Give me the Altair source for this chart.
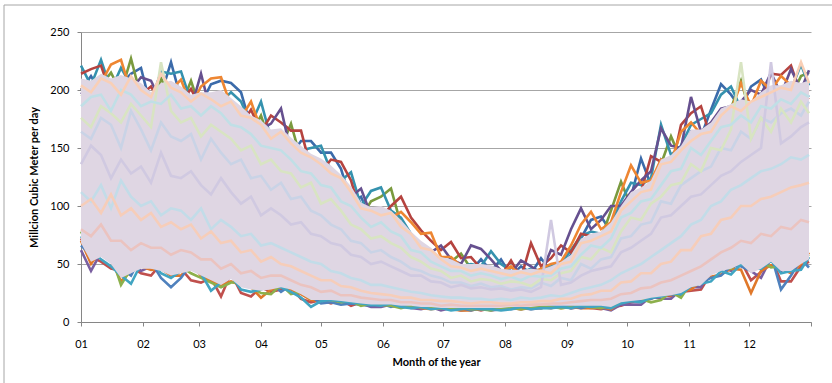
import altair as alt
import pandas as pd

# ---- x grid (day of year) and month ticks ----
days = [0, 5, 10, 15, 20, 25, 30, 35, 40, 45, 50, 55, 60, 65, 70, 75, 80, 85, 90, 95,
        100, 105, 110, 115, 120, 125, 130, 135, 140, 145, 150, 155, 160, 165, 170, 175,
        180, 185, 190, 195, 200, 205, 210, 215, 220, 225, 230, 235, 240, 245, 250, 255,
        260, 265, 270, 275, 280, 285, 290, 295, 300, 305, 310, 315, 320, 325, 330, 335,
        340, 345, 350, 355, 360, 364]
month_ticks = [0, 31, 59, 90, 120, 151, 181, 212, 243, 273, 304, 334, 365]
month_labels = ["01", "02", "03", "04", "05", "06", "07", "08", "09", "10", "11", "12", ""]
y_ticks = [0, 50, 100, 150, 200, 250]

# ---- series forming the upper edge ----
top_blue = [200, 212, 198, 190, 205, 214, 219, 185, 196, 224,
            192, 180, 188, 205, 208, 206, 198, 168, 160, 150,
            158, 144, 156, 156, 146, 146, 132, 104, 108, 88,
            90, 84, 80, 66, 58, 56, 46, 50, 42, 44,
            54, 44, 54, 40, 48, 42, 55, 44, 46, 58,
            72, 88, 91, 78, 96, 108, 141, 118, 140, 132,
            146, 164, 160, 183, 205, 196, 184, 203, 209, 190,
            188, 196, 200, 194]
top_red = [214, 218, 221, 196, 200, 192, 196, 203, 188, 196,
           190, 201, 184, 186, 180, 178, 170, 183, 164, 178,
           172, 165, 165, 132, 130, 140, 138, 122, 92, 94,
           90, 100, 108, 90, 79, 70, 62, 69, 55, 56,
           46, 44, 40, 53, 38, 68, 48, 55, 66, 60,
           76, 74, 70, 82, 98, 104, 112, 143, 138, 130,
           170, 180, 186, 158, 176, 180, 186, 182, 190, 214,
           213, 221, 196, 192]
top_green = [196, 194, 204, 215, 198, 227, 194, 182, 210, 192,
             186, 208, 182, 184, 178, 172, 168, 162, 178, 152,
             150, 171, 140, 128, 124, 118, 110, 102, 90, 104,
             108, 115, 84, 70, 62, 56, 50, 52, 59, 46,
             42, 40, 42, 38, 40, 44, 40, 46, 48, 56,
             70, 68, 72, 96, 121, 100, 110, 118, 136, 160,
             140, 158, 150, 166, 178, 184, 208, 178, 186, 192,
             184, 194, 212, 215]
top_purple = [198, 190, 200, 192, 196, 200, 211, 208, 190, 198,
              188, 184, 214, 180, 176, 182, 170, 164, 166, 171,
              184, 146, 144, 136, 128, 122, 116, 108, 115, 92,
              94, 88, 82, 74, 64, 60, 66, 54, 50, 66,
              63, 54, 44, 42, 53, 48, 42, 62, 58, 80,
              98, 80, 88, 100, 100, 112, 122, 130, 167, 152,
              150, 194, 164, 172, 184, 186, 190, 200, 196, 215,
              196, 218, 200, 217]
top_teal = [221, 204, 226, 200, 219, 204, 200, 190, 216, 214,
            216, 190, 194, 188, 190, 198, 190, 170, 190, 158,
            162, 150, 148, 150, 152, 130, 122, 129, 100, 113,
            116, 96, 90, 76, 64, 62, 52, 54, 48, 50,
            48, 61, 50, 44, 42, 46, 44, 48, 50, 62,
            74, 78, 76, 84, 104, 120, 118, 124, 170, 144,
            152, 170, 175, 180, 196, 203, 184, 188, 192, 198,
            194, 200, 222, 204]
top_orange = [202, 196, 206, 222, 226, 198, 192, 188, 194, 200,
              209, 186, 203, 210, 211, 186, 176, 190, 166, 160,
              160, 150, 146, 140, 134, 124, 118, 110, 96, 90,
              92, 90, 95, 86, 76, 77, 56, 56, 48, 48,
              44, 46, 42, 48, 40, 42, 46, 50, 52, 66,
              84, 95, 80, 86, 112, 135, 120, 122, 140, 138,
              164, 172, 162, 168, 180, 182, 206, 186, 208, 200,
              212, 204, 198, 200]

# ---- series forming the lower edge ----
low_blue = [66, 58, 64, 60, 46, 40, 56, 52, 38, 30,
            38, 50, 46, 40, 36, 44, 36, 34, 32, 34,
            26, 32, 28, 22, 16, 17, 15, 16, 15, 14,
            16, 13, 15, 13, 14, 12, 13, 11, 12, 10,
            12, 11, 13, 11, 12, 13, 12, 14, 13, 14,
            12, 14, 13, 12, 17, 19, 18, 20, 23, 24,
            23, 32, 34, 38, 40, 48, 48, 44, 50, 58,
            28, 40, 54, 47]
low_red = [72, 56, 52, 46, 44, 48, 42, 40, 50, 44,
           46, 36, 34, 38, 22, 42, 25, 22, 30, 26,
           28, 30, 20, 17, 19, 16, 19, 14, 17, 16,
           14, 15, 13, 14, 12, 13, 11, 12, 11, 12,
           10, 12, 11, 12, 11, 12, 13, 12, 14, 12,
           13, 12, 11, 13, 14, 17, 19, 22, 24, 22,
           26, 27, 28, 42, 46, 50, 52, 36, 43, 56,
           35, 35, 48, 52]
low_green = [78, 60, 66, 58, 32, 46, 54, 50, 48, 42,
             48, 42, 38, 34, 30, 34, 34, 30, 25, 24,
             32, 24, 26, 20, 20, 19, 17, 18, 14, 16,
             15, 14, 12, 14, 13, 12, 12, 11, 12, 11,
             11, 10, 12, 12, 11, 12, 14, 13, 12, 13,
             14, 13, 12, 14, 18, 20, 20, 17, 19, 26,
             21, 34, 36, 44, 48, 46, 54, 48, 52, 47,
             48, 46, 54, 58]
low_purple = [62, 44, 60, 56, 50, 52, 44, 48, 54, 50,
              52, 48, 44, 42, 38, 46, 40, 34, 36, 30,
              34, 32, 28, 22, 21, 20, 20, 19, 16, 13,
              13, 15, 14, 12, 11, 13, 10, 12, 10, 11,
              12, 10, 11, 13, 12, 11, 12, 13, 14, 12,
              13, 14, 12, 10, 15, 15, 15, 22, 20, 20,
              28, 30, 30, 46, 48, 44, 56, 44, 38, 55,
              44, 50, 56, 54]
low_teal = [74, 62, 54, 48, 40, 33, 50, 54, 42, 38,
            44, 46, 42, 27, 34, 40, 28, 26, 28, 32,
            30, 26, 21, 13, 18, 19, 18, 17, 16, 15,
            14, 16, 13, 12, 13, 11, 12, 10, 11, 12,
            11, 11, 10, 11, 13, 11, 12, 12, 13, 12,
            14, 13, 14, 12, 16, 18, 17, 21, 22, 25,
            24, 31, 33, 35, 44, 41, 50, 46, 46, 53,
            42, 44, 45, 56]
low_orange = [70, 50, 62, 54, 35, 44, 48, 45, 46, 40,
              40, 50, 40, 36, 32, 35, 32, 30, 21, 28,
              30, 28, 24, 19, 18, 21, 18, 17, 15, 16,
              15, 14, 13, 15, 12, 11, 12, 11, 10, 10,
              12, 11, 11, 12, 11, 13, 12, 14, 12, 13,
              12, 12, 13, 11, 17, 20, 21, 20, 25, 23,
              27, 28, 35, 39, 41, 46, 45, 25, 44, 49,
              46, 42, 50, 60]

# ---- dense middle of the bundle ----
band_hi = [210, 208, 214, 210, 213, 210, 206, 198, 206, 208,
           203, 196, 198, 198, 200, 193, 186, 178, 174, 166,
           167, 159, 152, 145, 141, 135, 127, 117, 103, 99,
           100, 96, 88, 78, 70, 64, 56, 54, 50, 50,
           50, 49, 46, 45, 45, 46, 45, 48, 52, 58,
           72, 76, 78, 86, 100, 112, 116, 122, 140, 144,
           152, 166, 166, 172, 184, 188, 192, 190, 198, 204,
           204, 208, 206, 208]
band_lo = [68, 52, 56, 50, 38, 42, 46, 46, 44, 40,
           42, 44, 40, 36, 32, 37, 30, 28, 27, 28,
           30, 28, 24, 19, 19, 19, 18, 17, 16, 15,
           15, 15, 14, 14, 13, 13, 12, 12, 12, 12,
           12, 12, 12, 13, 13, 13, 14, 14, 14, 14,
           14, 14, 14, 13, 17, 18, 19, 21, 22, 23,
           25, 30, 32, 40, 44, 46, 50, 42, 46, 52,
           44, 44, 50, 54]

# ---- pale series drawn on top ----
pale_peach = [204, 198, 210, 206, 196, 212, 200, 194, 214, 202,
              198, 190, 197, 192, 186, 190, 178, 176, 170, 158,
              164, 154, 146, 142, 136, 128, 124, 112, 98, 96,
              92, 94, 82, 76, 64, 62, 54, 48, 47, 44,
              46, 44, 42, 40, 43, 41, 44, 42, 50, 52,
              68, 70, 74, 78, 96, 104, 112, 114, 136, 138,
              148, 156, 162, 164, 178, 186, 182, 190, 194, 198,
              202, 200, 224, 206]
pale_aqua = [186, 194, 196, 182, 200, 196, 186, 190, 188, 196,
             184, 186, 178, 186, 180, 170, 168, 162, 152, 150,
             148, 140, 130, 128, 118, 116, 104, 100, 90, 82,
             86, 78, 74, 62, 60, 52, 48, 44, 44, 40,
             42, 40, 37, 39, 36, 40, 39, 40, 46, 48,
             58, 66, 64, 72, 90, 94, 104, 106, 118, 130,
             132, 150, 144, 156, 168, 170, 178, 172, 186, 184,
             192, 188, 198, 194]
pale_green = [176, 168, 186, 180, 172, 188, 178, 168, 224, 182,
              172, 176, 160, 170, 164, 158, 148, 152, 136, 140,
              130, 128, 116, 120, 102, 106, 96, 84, 80, 72,
              74, 68, 64, 56, 52, 46, 44, 38, 40, 35,
              37, 36, 33, 35, 34, 31, 37, 36, 42, 44,
              56, 54, 64, 60, 78, 90, 88, 102, 108, 118,
              120, 136, 130, 150, 148, 166, 224, 158, 176, 164,
              184, 172, 190, 180]
pale_steel = [164, 158, 176, 170, 150, 182, 166, 148, 172, 160,
              156, 162, 140, 158, 146, 136, 140, 124, 126, 114,
              120, 106, 108, 96, 92, 84, 80, 70, 68, 60,
              62, 56, 52, 46, 44, 40, 38, 34, 34, 31,
              33, 30, 31, 28, 30, 29, 34, 31, 38, 36,
              50, 46, 54, 56, 72, 74, 84, 86, 104, 102,
              118, 124, 130, 134, 150, 148, 164, 158, 176, 172,
              180, 184, 178, 190]
pale_lavender = [136, 152, 144, 124, 140, 128, 134, 120, 146, 126,
                 124, 130, 118, 110, 124, 112, 102, 108, 92, 98,
                 92, 84, 86, 76, 74, 68, 66, 58, 56, 50,
                 52, 48, 44, 40, 40, 35, 34, 30, 32, 29,
                 30, 28, 29, 27, 28, 26, 30, 88, 32, 34,
                 40, 44, 46, 48, 60, 64, 70, 76, 90, 92,
                 100, 108, 110, 118, 126, 130, 138, 144, 150, 224,
                 154, 160, 168, 172]
pale_blue = [112, 104, 118, 98, 122, 108, 100, 104, 92, 98,
             96, 88, 98, 80, 88, 82, 74, 76, 66, 68,
             64, 60, 56, 52, 50, 44, 42, 38, 36, 32,
             32, 30, 28, 26, 25, 23, 22, 21, 21, 20,
             20, 19, 20, 19, 21, 20, 21, 23, 22, 25,
             28, 30, 32, 36, 42, 46, 50, 56, 62, 68,
             74, 84, 88, 100, 104, 114, 118, 124, 130, 132,
             136, 142, 140, 144]
pale_peach2 = [100, 106, 94, 110, 92, 98, 88, 94, 82, 86,
               80, 84, 72, 78, 68, 70, 60, 62, 52, 56,
               50, 48, 44, 40, 36, 36, 31, 30, 27, 25,
               24, 23, 21, 21, 19, 19, 18, 18, 17, 16,
               17, 17, 16, 16, 17, 17, 18, 18, 20, 20,
               23, 24, 27, 27, 34, 35, 42, 42, 50, 52,
               62, 62, 74, 76, 88, 90, 100, 100, 106, 108,
               112, 116, 118, 120]
pale_pink = [80, 74, 84, 70, 70, 62, 68, 64, 64, 58,
             62, 60, 54, 54, 46, 50, 42, 44, 38, 40,
             40, 36, 32, 30, 26, 27, 23, 23, 21, 20,
             19, 19, 17, 17, 16, 16, 14, 15, 14, 14,
             14, 14, 14, 15, 14, 15, 15, 16, 16, 17,
             18, 19, 19, 20, 24, 25, 29, 30, 34, 36,
             40, 44, 48, 54, 60, 64, 70, 68, 76, 74,
             82, 80, 88, 86]

dark = {
    "t_blue": top_blue, "l_red": low_red, "t_green": top_green,
    "l_purple": low_purple, "t_teal": top_teal, "l_orange": low_orange,
    "t_red": top_red, "l_blue": low_blue, "t_purple": top_purple,
    "l_green": low_green, "t_orange": top_orange, "l_teal": low_teal,
}
pale = {
    "p_blue": pale_blue, "p_pink": pale_pink, "p_steel": pale_steel,
    "p_peach2": pale_peach2, "p_green": pale_green, "p_lavender": pale_lavender,
    "p_aqua": pale_aqua, "p_peach": pale_peach,
}
palette = {
    "t_blue": "#3B6BAA", "t_red": "#B5433F", "t_green": "#7A9A3E",
    "t_purple": "#66508F", "t_teal": "#3592AE", "t_orange": "#EE8632",
    "l_blue": "#4F81BD", "l_red": "#C0504D", "l_green": "#8DB04C",
    "l_purple": "#7A5FA0", "l_teal": "#41A5C2", "l_orange": "#E0782A",
    "p_peach": "#F9CFB6", "p_green": "#D8E4C2", "p_lavender": "#D0C9E1",
    "p_blue": "#C2DCE8", "p_pink": "#EBC3BF", "p_steel": "#C9D3E6",
    "p_peach2": "#F6CDB9", "p_aqua": "#C0DFE6",
}

def long_df(d):
    rows = []
    for name, vals in d.items():
        for day, v in zip(days, vals):
            rows.append({"series": name, "day": day, "value": v})
    return pd.DataFrame(rows)

df_dark = long_df(dark)
df_pale = long_df(pale)
df_band = pd.DataFrame({"day": days, "hi": band_hi, "lo": band_lo})

label_expr = "{}[indexof({}, datum.value)]".format(
    "[" + ",".join("'%s'" % s for s in month_labels) + "]",
    "[" + ",".join(str(t) for t in month_ticks) + "]")

FONT = "Lato"
x_axis = alt.Axis(values=month_ticks, labelExpr=label_expr, title="Month of the year",
                  grid=False, domainColor="#868686", tickColor="#868686", tickSize=4,
                  labelFont=FONT, labelFontSize=11, labelColor="#000000", labelPadding=12,
                  labelFlush=False, labelOverlap=False,
                  titleFont=FONT, titleFontSize=11, titleFontWeight="bold",
                  titleColor="#000000", titlePadding=7, titleX=355)
y_axis = alt.Axis(values=y_ticks, title="Millcion Cubic Meter per day",
                  grid=True, gridColor="#A6A6A6", gridWidth=1,
                  domainColor="#868686", tickColor="#868686", tickSize=4,
                  labelFont=FONT, labelFontSize=11, labelColor="#000000", labelPadding=8,
                  titleFont=FONT, titleFontSize=11, titleFontWeight="bold",
                  titleColor="#000000", titlePadding=10)
x_scale = alt.Scale(domain=[0, 365], nice=False, zero=False)
y_scale = alt.Scale(domain=[0, 250], nice=False)

names = list(palette.keys())
color_scale = alt.Scale(domain=names, range=[palette[n] for n in names])

dark_lines = alt.Chart(df_dark).mark_line(strokeWidth=2.6, interpolate="linear").encode(
    x=alt.X("day:Q", scale=x_scale, axis=x_axis),
    y=alt.Y("value:Q", scale=y_scale, axis=y_axis),
    color=alt.Color("series:N", scale=color_scale, legend=None),
)
band = alt.Chart(df_band).mark_area(color="#DFD6E3", interpolate="linear").encode(
    x=alt.X("day:Q", scale=x_scale, axis=x_axis),
    y=alt.Y("hi:Q", scale=y_scale, axis=y_axis),
    y2="lo:Q",
)
pale_lines = alt.Chart(df_pale).mark_line(strokeWidth=2.6, interpolate="linear").encode(
    x=alt.X("day:Q", scale=x_scale, axis=x_axis),
    y=alt.Y("value:Q", scale=y_scale, axis=y_axis),
    color=alt.Color("series:N", scale=color_scale, legend=None),
)
frame = alt.Chart(alt.Data(values=[{"k": 1}])).mark_rect(
    filled=False, stroke="#A6A6A6", strokeWidth=1).encode(
    x=alt.value(-77), y=alt.value(-27), x2=alt.value(760), y2=alt.value(360))

chart = alt.layer(dark_lines, band, pale_lines, frame).properties(
    width=730, height=290,
    autosize=alt.AutoSizeParams(type="none"),
    padding={"left": 81, "top": 32, "right": 21, "bottom": 61},
    background="#FFFFFF",
).configure_view(stroke=None)

chart.save("out.html", embed_options={"renderer": "svg", "actions": False})
